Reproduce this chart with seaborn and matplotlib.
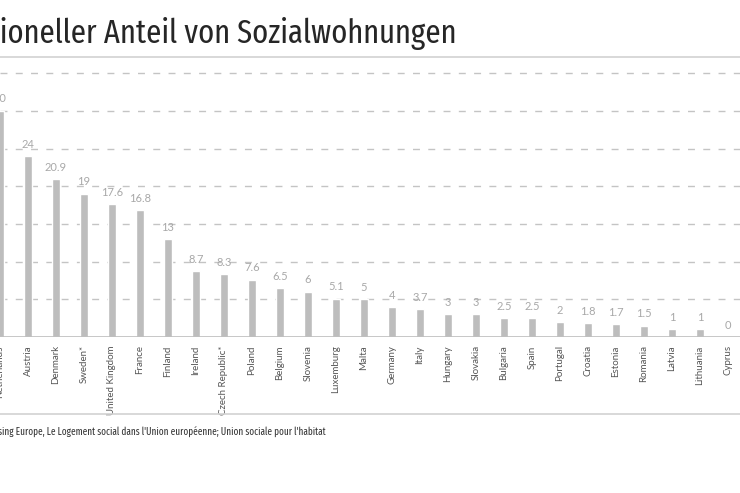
#import libraries
import matplotlib
matplotlib.use("Agg")
import matplotlib.pyplot as plt
import seaborn as sns
import pandas as pd
from matplotlib.lines import Line2D

# data (share of social housing, %)
countries = ["Netherlands", "Austria", "Denmark", "Sweden*", "United Kingdom", "France",
             "Finland", "Ireland", "Czech Republic*", "Poland", "Belgium", "Slovenia",
             "Luxemburg", "Malta", "Germany", "Italy", "Hungary", "Slovakia", "Bulgaria",
             "Spain", "Portugal", "Croatia", "Estonia", "Romania", "Latvia", "Lithuania", "Cyprus"]
shares = [30, 24, 20.9, 19, 17.6, 16.8, 13, 8.7, 8.3, 7.6, 6.5, 6, 5.1, 5, 4, 3.7,
          3, 3, 2.5, 2.5, 2, 1.8, 1.7, 1.5, 1, 1, 0]
grid_ticks = [5, 10, 15, 20, 25, 30, 35]

title = "Proportioneller Anteil von Sozialwohnungen"
source = "Quelle: Housing Europe, Le Logement social dans l'Union européenne; Union sociale pour l'habitat"

df = pd.DataFrame({"country": countries, "share": shares})

sns.set_style("white")
plt.rcParams["font.family"] = ["Lato", "DejaVu Sans"]
cond = ["Fira Sans Extra Condensed", "Roboto Condensed", "DejaVu Sans"]

W, H = 740, 493
fig = plt.figure(figsize=(7.4, 4.93), dpi=100)
# axes spans full width, baseline at y=337px, 7.54 px per unit
ax = fig.add_axes([0, (H - 337) / H, 1, 36 * 7.54 / H])

sns.barplot(data=df, x="country", y="share", color="#bdbdbd", width=0.32,
            saturation=1, ax=ax, zorder=2)

ax.set_xlim(0, W / 28)
ax.set_ylim(0, 36)

# dashed gridlines
for t in grid_ticks:
    ax.axhline(t, color="#c4c4c4", lw=1, dashes=(5, 6), zorder=1)
ax.axhline(0, color="#bdbdbd", lw=1.2, zorder=3)

# value labels above bars
for i, v in enumerate(shares):
    lab = f"{v:g}"
    ax.annotate(lab, (i, v), xytext=(0, 8.5), textcoords="offset points",
                ha="center", va="center", fontsize=8, color="#a8a8a8", zorder=4)

sns.despine(ax=ax, left=True, bottom=True, top=True, right=True)
ax.set_yticks([])
ax.set_xlabel("")
ax.set_ylabel("")
ax.tick_params(axis="x", length=0, pad=6)
plt.xticks(rotation=90, fontsize=7, color="#555555")

# title, rules and source
fig.text(457 / W, 1 - 43 / H, title, ha="right", va="baseline",
         fontsize=24, color="#262626", family=cond)
fig.add_artist(Line2D([0, 1], [1 - 57 / H, 1 - 57 / H], color="#d2d2d2", lw=1.2))
fig.add_artist(Line2D([0, 1], [1 - 414 / H, 1 - 414 / H], color="#d2d2d2", lw=1.2))
fig.text(326 / W, 1 - 436 / H, source, ha="right", va="baseline",
         fontsize=7.2, color="#333333", family=cond)

fig.savefig("out.png", dpi=100, facecolor="white")
